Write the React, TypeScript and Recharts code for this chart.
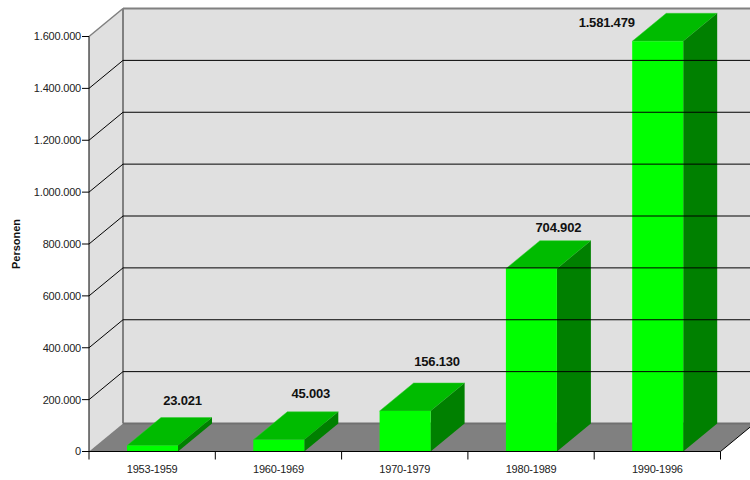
import { Bar, BarChart, LabelList, ReferenceArea, ReferenceLine, XAxis, YAxis } from "recharts";

const periods = ["1953-1959", "1960-1969", "1970-1979", "1980-1989", "1990-1996"];
const persons = [23021, 45003, 156130, 704902, 1581479];
const yTicks = [0, 200000, 400000, 600000, 800000, 1000000, 1200000, 1400000, 1600000];

// hand placement of the value labels, relative to the bar's front top centre
const labelDx = [30, 32, 32, 27, -51];
const labelDy = [-45, -46, -50, -41, -19];

const WIDTH = 750;
const HEIGHT = 480;
const AXIS_W = 89;
const AXIS_H = 28.5;
const TOP = 36.5;
const RIGHT = 29.5;
const DEPTH_X = 34;
const DEPTH_Y = 28;
const BAND = (WIDTH - AXIS_W - RIGHT) / periods.length;
const FONT = "'Liberation Sans', Arial, sans-serif";

const data = periods.map((period, i) => ({ period, persons: persons[i] }));
const fmt = (v: number) => String(v).replace(/\B(?=(\d{3})+$)/g, ".");

function Box({ x, y, width, height }: any) {
  const r = x + width;
  const b = y + height;
  return (
    <g>
      <polygon points={`${x},${y} ${x + DEPTH_X},${y - DEPTH_Y} ${r + DEPTH_X},${y - DEPTH_Y} ${r},${y}`} fill="#00bb00" stroke="#33cc33" strokeWidth={0.5} />
      <polygon points={`${r},${y} ${r + DEPTH_X},${y - DEPTH_Y} ${r + DEPTH_X},${b - DEPTH_Y} ${r},${b}`} fill="#008000" />
      <rect x={x} y={y} width={width} height={height} fill="#00ff00" />
    </g>
  );
}

// side wall, back wall and floor of the box behind the bars
function Room({ x, y, width, height }: any) {
  const r = x + width;
  const b = y + height;
  const bx = x + DEPTH_X;
  return (
    <g>
      <polygon points={`${x},${y} ${bx},${y - DEPTH_Y} ${bx},${b - DEPTH_Y} ${x},${b}`} fill="#e0e0e0" />
      <rect x={bx} y={y - DEPTH_Y} width={width} height={height} fill="#e0e0e0" />
      <polygon points={`${x},${b} ${bx},${b - DEPTH_Y} ${r + DEPTH_X},${b - DEPTH_Y} ${r},${b}`} fill="#808080" />
      <line x1={bx} y1={y - DEPTH_Y} x2={bx} y2={b - DEPTH_Y} stroke="#808080" strokeWidth={2} />
      <line x1={x} y1={y} x2={bx} y2={y - DEPTH_Y} stroke="#808080" strokeWidth={1.5} />
      <line x1={bx} y1={y - DEPTH_Y} x2={r + DEPTH_X} y2={y - DEPTH_Y} stroke="#808080" strokeWidth={2} />
      <line x1={bx} y1={b - DEPTH_Y} x2={r + DEPTH_X} y2={b - DEPTH_Y} stroke="#707070" strokeWidth={2} />
      <line x1={r} y1={b} x2={r + DEPTH_X} y2={b - DEPTH_Y} stroke="#000" strokeWidth={1} />
    </g>
  );
}

function GridLine({ x1, y1, x2, y2 }: any) {
  return (
    <g>
      <line x1={x1} y1={y1} x2={x1 + DEPTH_X} y2={y1 - DEPTH_Y} stroke="#000" />
      <line x1={x1 + DEPTH_X} y1={y1 - DEPTH_Y} x2={x2 + DEPTH_X} y2={y2 - DEPTH_Y} stroke="#000" />
    </g>
  );
}

function BandTick({ x, y, payload, index }: any) {
  const left = x - BAND / 2;
  return (
    <g>
      <line x1={left} y1={y - 8} x2={left} y2={y} stroke="#000" />
      {index === periods.length - 1 && <line x1={left + BAND} y1={y - 8} x2={left + BAND} y2={y} stroke="#000" />}
      <text x={x} y={y + 13} textAnchor="middle" fontSize={11} fontFamily={FONT} letterSpacing={-0.2} fill="#222">
        {payload.value}
      </text>
    </g>
  );
}

function ValueLabel({ x, y, width, value, index }: any) {
  return (
    <text
      x={x + width / 2 + labelDx[index]}
      y={y + labelDy[index]}
      dy="0.35em"
      textAnchor="middle"
      fontSize={13}
      fontWeight="bold"
      fontFamily={FONT}
      letterSpacing={-0.2}
      fill="#111"
    >
      {fmt(value)}
    </text>
  );
}

export default function App() {
  return (
    <div style={{ position: "absolute", left: 0, top: 0, width: WIDTH, height: HEIGHT, background: "#fff" }}>
      <BarChart width={WIDTH} height={HEIGHT} data={data} margin={{ top: TOP, right: RIGHT, bottom: 0, left: 0 }}>
        <ReferenceArea y1={0} y2={1600000} ifOverflow="visible" shape={<Room />} />
        {yTicks.slice(1, -1).map((t) => (
          <ReferenceLine key={t} y={t} ifOverflow="visible" shape={<GridLine />} />
        ))}
        <XAxis dataKey="period" height={AXIS_H} axisLine={{ stroke: "#000" }} tickLine={false} interval={0} tick={<BandTick />} />
        <YAxis
          width={AXIS_W}
          domain={[0, 1600000]}
          ticks={yTicks}
          interval={0}
          tickFormatter={fmt}
          tickSize={7}
          tickMargin={1}
          axisLine={{ stroke: "#000" }}
          tickLine={{ stroke: "#000" }}
          tick={{ fontSize: 11, fontFamily: FONT, fill: "#222", letterSpacing: -0.2 }}
          label={{ value: "Personen", angle: -90, position: "insideLeft", offset: 16, style: { fontSize: 11, fontWeight: "bold", fontFamily: FONT, fill: "#111", textAnchor: "middle" } }}
        />
        <Bar dataKey="persons" barSize={51} isAnimationActive={false} shape={<Box />}>
          <LabelList dataKey="persons" content={<ValueLabel />} />
        </Bar>
      </BarChart>
    </div>
  );
}
